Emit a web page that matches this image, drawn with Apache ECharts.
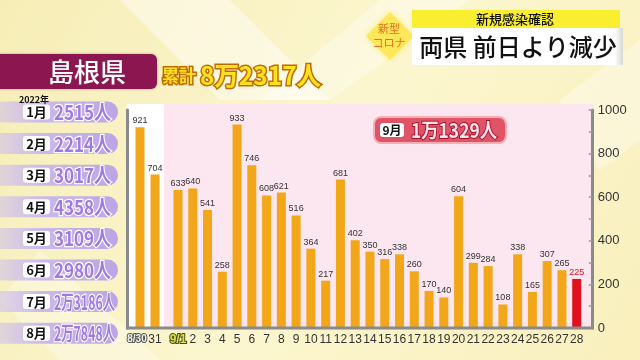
<!DOCTYPE html>
<html><head><meta charset="utf-8">
<script src="https://cdn.jsdelivr.net/npm/echarts@6/dist/echarts.min.js"></script>
<style>html,body{margin:0;padding:0;background:#fbf3c4}#c{width:640px;height:360px}</style>
</head><body><div id="c"></div><script>
// ---- data ----
const augDays = ['8/30', '31'];
const augCases = [921, 704];
const sepDays = ['9/1','2','3','4','5','6','7','8','9','10','11','12','13','14','15','16','17','18','19','20','21','22','23','24','25','26','27','28'];
const sepCases = [633,640,541,258,933,746,608,621,516,364,217,681,402,350,316,338,260,170,140,604,299,284,108,338,165,307,265,225];
const yTicks = [0, 200, 400, 600, 800, 1000];
const months = ['1月','2月','3月','4月','5月','6月','7月','8月'];
const monthTotals = ['2515人','2214人','3017人','4358人','3109人','2980人','2万3186人','2万7848人'];
const prefName = '島根県';
const totalPrefix = '累計';
const totalValue = '8万2317人';
const sepMonth = '9月';
const sepTotal = '1万1329人';
const yearLabel = '2022年';
const headTop = '新規感染確認';
const headMain = '両県 前日より減少';
const tagLines = ['新型', 'コロナ'];

// ---- styles ----
const NARROW = "'Liberation Sans Narrow','Liberation Sans',Arial,sans-serif";
const CJK = "'Noto Sans CJK JP','Noto Sans',sans-serif";
const BAR = '#F2A71B', RED = '#E0101E';

const mc = document.createElement('canvas').getContext('2d');
function fitScale(text, font, w) { mc.font = font; const m = mc.measureText(text).width; return Math.min(1, w / m); }

const chart = echarts.init(document.getElementById('c'), null, {renderer: 'canvas'});

const g = [];
// background
g.push({type:'rect', z:-20, shape:{x:0,y:0,width:640,height:360}, style:{fill:{type:'linear',x:0,y:0,x2:1,y2:1,colorStops:[{offset:0,color:'#f6edb6'},{offset:0.5,color:'#fcf6cf'},{offset:1,color:'#f9f0bd'}]}}});
g.push({type:'polygon', z:-19, shape:{points:[[120,0],[230,0],[330,100],[220,100]]}, style:{fill:'rgba(255,255,255,0.45)'}});
g.push({type:'polygon', z:-19, shape:{points:[[380,0],[470,0],[330,100],[260,100]]}, style:{fill:'rgba(255,255,255,0.35)'}});
g.push({type:'polygon', z:-19, shape:{points:[[560,100],[640,40],[640,140],[600,170]]}, style:{fill:'rgba(255,255,255,0.35)'}});
g.push({type:'polygon', z:-19, shape:{points:[[0,300],[60,360],[160,360],[40,250]]}, style:{fill:'rgba(255,255,255,0.3)'}});
// plot panels
g.push({type:'rect', z:-10, shape:{x:127,y:104,width:37,height:224}, style:{fill:'#ffffff'}});
g.push({type:'rect', z:-10, shape:{x:164,y:104,width:429,height:224}, style:{fill:'#fce6ef'}});
// bottom axis line
g.push({type:'line', z:10, shape:{x1:126,y1:328,x2:594,y2:328}, style:{stroke:'#8a8a8a', lineWidth:3}});

// prefecture box
g.push({type:'rect', z:5, shape:{x:-10,y:54,width:167,height:35,r:6}, style:{fill:'#8c1650', shadowBlur:3, shadowColor:'rgba(0,0,0,0.3)'}});
g.push({type:'text', z:6, x:87, y:72, style:{text:prefName, fill:'#ffffff', font:'500 26px ' + CJK, align:'center', verticalAlign:'middle', textAlign:'center', textVerticalAlign:'middle'}});
g.push({type:'text', z:6, x:162, y:76, style:{text:totalPrefix, fill:'#ffe21e', stroke:'#c06a00', lineWidth:3, font:'bold 17px ' + CJK, align:'left', verticalAlign:'middle', textAlign:'left', textVerticalAlign:'middle'}});
(function(){
  const f = 'bold 25px ' + CJK; const s = fitScale(totalValue, f, 121);
  g.push({type:'text', z:6, x:200, y:75, scaleX:s, style:{text:totalValue, fill:'#ffe21e', stroke:'#c06a00', lineWidth:3, font:f, align:'left', verticalAlign:'middle', textAlign:'left', textVerticalAlign:'middle'}});
})();

// month rows
g.push({type:'text', z:8, x:34, y:100, style:{text:yearLabel, fill:'#111', font:'bold 9px ' + CJK, align:'center', verticalAlign:'middle', textAlign:'center', textVerticalAlign:'middle'}});
months.forEach((m, i) => {
  const cy = 112 + i * 31.6;
  g.push({type:'rect', z:5, shape:{x:-20, y:cy-10.5, width:138, height:21, r:10.5}, style:{fill:{type:'linear',x:0,y:0,x2:1,y2:0,colorStops:[{offset:0,color:'rgba(205,190,238,0.3)'},{offset:0.45,color:'#cbb9ec'},{offset:1,color:'#bba5e4'}]}}});
  g.push({type:'rect', z:6, shape:{x:23, y:cy-7.5, width:27, height:15, r:3}, style:{fill:'#ffffff'}});
  g.push({type:'text', z:7, x:36.5, y:cy, style:{text:m, fill:'#111', font:'bold 13px ' + CJK, align:'center', verticalAlign:'middle', textAlign:'center', textVerticalAlign:'middle'}});
  const f = 'bold 20px ' + CJK; const w = monthTotals[i].length > 5 ? 61 : 57;
  const s = fitScale(monthTotals[i], f, w);
  g.push({type:'text', z:7, x:54, y:cy+0.5, scaleX:s, style:{text:monthTotals[i], fill:'#a079e4', stroke:'#ffffff', lineWidth:2.5, font:f, align:'left', verticalAlign:'middle', textAlign:'left', textVerticalAlign:'middle'}});
});

// header top-right
g.push({type:'polygon', z:5, shape:{points:[[390,12],[414,36],[390,60],[366,36]]}, style:{fill:'#ffe75a', shadowBlur:6, shadowColor:'rgba(255,230,90,0.8)'}});
g.push({type:'text', z:6, x:389, y:29, style:{text:tagLines[0], fill:'#e8701e', font:'11px ' + CJK, align:'center', verticalAlign:'middle', textAlign:'center', textVerticalAlign:'middle'}});
g.push({type:'text', z:6, x:389, y:43, style:{text:tagLines[1], fill:'#e8701e', font:'11px ' + CJK, align:'center', verticalAlign:'middle', textAlign:'center', textVerticalAlign:'middle'}});
g.push({type:'rect', z:5, shape:{x:412,y:10,width:208,height:18}, style:{fill:'#f9ef30'}});
g.push({type:'text', z:6, x:515, y:19, style:{text:headTop, fill:'#111', font:'500 13px ' + CJK, align:'center', verticalAlign:'middle', textAlign:'center', textVerticalAlign:'middle'}});
g.push({type:'rect', z:5, shape:{x:412,y:28,width:211,height:37}, style:{fill:{type:'linear',x:0,y:0,x2:1,y2:0,colorStops:[{offset:0,color:'#ffffff'},{offset:0.96,color:'#ffffff'},{offset:1,color:'#d8d8d0'}]}}});
g.push({type:'text', z:6, x:518, y:47, style:{text:headMain, fill:'#111', font:'500 24px ' + CJK, align:'center', verticalAlign:'middle', textAlign:'center', textVerticalAlign:'middle'}});

// September total box
g.push({type:'rect', z:5, shape:{x:374,y:117,width:132,height:26,r:7}, style:{fill:'#e05468', stroke:'#f6b0b4', lineWidth:2}});
g.push({type:'rect', z:6, shape:{x:380,y:123,width:24,height:14,r:3}, style:{fill:'#ffffff'}});
g.push({type:'text', z:7, x:392, y:130, style:{text:sepMonth, fill:'#111', font:'bold 12px ' + CJK, align:'center', verticalAlign:'middle', textAlign:'center', textVerticalAlign:'middle'}});
(function(){
  const f = 'bold 20px ' + CJK; const s = fitScale(sepTotal, f, 86);
  g.push({type:'text', z:7, x:411, y:130.5, scaleX:s, style:{text:sepTotal, fill:'#fde4ea', stroke:'#a8102c', lineWidth:2, font:f, align:'left', verticalAlign:'middle', textAlign:'left', textVerticalAlign:'middle'}});
})();

const labelStyle = {show:true, position:'top', distance:2, fontSize:9, fontFamily:NARROW, color:'#333'};
const last = sepCases.length - 1;

const option = {
  animation:false,
  backgroundColor:'transparent',
  grid:[
    {left:132.5, top:110, width:30, height:218, outerBoundsMode:'none'},
    {left:170.6, top:110, width:413.5, height:218, outerBoundsMode:'none'}
  ],
  xAxis:[
    {type:'category', gridIndex:0, data:augDays, axisLine:{show:false}, axisTick:{show:false},
     axisLabel:{interval:0, margin:6, fontSize:12, fontFamily:NARROW, color:'#333',
       formatter: v => v === augDays[0] ? '{o|' + v + '}' : v,
       rich:{o:{fontSize:10, fontFamily:NARROW, fontWeight:'bold', color:'#f2f2ea', textBorderColor:'#555', textBorderWidth:2, padding:[0,6,0,0]}}}},
    {type:'category', gridIndex:1, data:sepDays, axisLine:{show:false}, axisTick:{show:false},
     axisLabel:{interval:0, margin:6, fontSize:12, fontFamily:NARROW, color:'#333',
       formatter: v => v === sepDays[0] ? '{g|' + v + '}' : v,
       rich:{g:{fontSize:12, fontFamily:NARROW, fontWeight:'bold', color:'#d8e040', textBorderColor:'#4a4a20', textBorderWidth:2}}}}
  ],
  yAxis:[
    {type:'value', gridIndex:0, min:0, max:1000, interval:100, position:'left', offset:5,
     axisLine:{show:true, lineStyle:{color:'#8a8a8a', width:3}}, axisTick:{show:false}, axisLabel:{show:false}, splitLine:{show:false}},
    {type:'value', gridIndex:1, min:0, max:1000, interval:100, position:'right', offset:8.6,
     axisLine:{show:true, lineStyle:{color:'#8a8a8a', width:3}},
     axisTick:{show:true, inside:true, length:4, lineStyle:{color:'#9a9a9a', width:1.5}},
     axisLabel:{margin:5, fontSize:13, fontFamily:NARROW, color:'#333', formatter: v => yTicks.includes(v) ? String(v) : ''},
     splitLine:{show:false}}
  ],
  series:[
    {type:'bar', xAxisIndex:0, yAxisIndex:0, data:augCases, barWidth:9, itemStyle:{color:BAR}, label:labelStyle},
    {type:'bar', xAxisIndex:1, yAxisIndex:1, barWidth:9, itemStyle:{color:BAR}, label:labelStyle,
     data: sepCases.map((v, i) => i === last ? {value:v, itemStyle:{color:RED}, label:{color:RED}} : v)}
  ],
  graphic:{elements:g}
};
chart.setOption(option);
</script></body></html>
